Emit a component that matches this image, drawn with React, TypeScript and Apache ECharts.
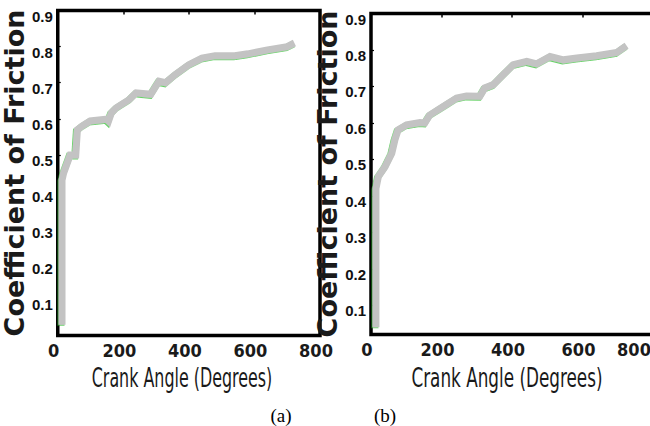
import React, { useEffect, useRef } from "react";
import * as echarts from "echarts";

// Panel (a)
const angleA = [13, 13, 18, 38, 55, 60, 74, 99, 149, 155, 164, 179, 219, 239, 259, 284, 299, 309, 329, 359, 400, 440, 480, 540, 580, 640, 700, 722];
const cofA = [0.03, 0.43, 0.45, 0.5, 0.5, 0.57, 0.58, 0.594, 0.599, 0.594, 0.617, 0.631, 0.654, 0.672, 0.67, 0.668, 0.69, 0.704, 0.7, 0.723, 0.75, 0.768, 0.775, 0.775, 0.78, 0.791, 0.8, 0.81];

// Panel (b)
const angleB = [14, 14, 21, 40, 59, 68, 77, 101, 139, 153, 167, 205, 243, 271, 309, 323, 347, 375, 404, 442, 470, 508, 546, 584, 640, 697, 725];
const cofB = [0.04, 0.42, 0.453, 0.48, 0.517, 0.554, 0.581, 0.595, 0.601, 0.6, 0.622, 0.645, 0.668, 0.674, 0.673, 0.696, 0.705, 0.732, 0.76, 0.769, 0.762, 0.782, 0.773, 0.778, 0.784, 0.793, 0.812];

const xTitle = "Crank Angle (Degrees)";
const yTitle = "Coefficient of Friction";
const panelLabels = ["(a)", "(b)"];

export default function App() {
  const ref = useRef<HTMLDivElement>(null);

  useEffect(() => {
    const chart = echarts.init(ref.current!, null, { renderer: "svg" });
    const pair = (xs: number[], ys: number[]) => xs.map((x, i) => [x, ys[i]]);

    const cond = "'DejaVu Sans Condensed', 'DejaVu Sans', sans-serif";
    const grids = [
      { left: 55, top: 10.5, width: 265, height: 325 },
      { left: 371, top: 13.5, width: 282, height: 321 },
    ];
    const yMins = [0, 0.02];
    const yGaps = [19, 14];

    const xLabelFont = { fontFamily: cond, fontWeight: "bold", fontSize: 18, color: "#1a1a1a" };

    const xAxes: any[] = [];
    const yAxes: any[] = [];
    grids.forEach((_, i) => {
      xAxes.push({
        type: "value",
        gridIndex: i,
        min: 0,
        max: 800,
        interval: 200,
        axisLine: { show: false },
        axisTick: { show: false },
        splitLine: { show: false },
        axisLabel: {
          ...xLabelFont,
          margin: 6,
          padding: [0, 8, 0, 0],
          formatter: (v: number) => (i === 1 && v === 800 ? "{e|" + v + "}" : String(v)),
          rich: { e: { ...xLabelFont, padding: [0, 30, 0, 0] } },
        },
      });
      xAxes.push({
        type: "value",
        gridIndex: i,
        position: "top",
        min: 0,
        max: 800,
        interval: 200,
        axisLine: { show: false },
        axisTick: { show: true, inside: true, length: 4, lineStyle: { color: "#000", width: 1.5 } },
        splitLine: { show: false },
        axisLabel: { show: false },
      });
      yAxes.push({
        type: "value",
        gridIndex: i,
        min: yMins[i],
        max: 0.9,
        splitNumber: 9,
        minInterval: 0.1,
        maxInterval: 0.1,
        axisLine: { show: false },
        axisTick: { show: true, inside: true, length: 3, lineStyle: { color: "#000", width: 1.2 } },
        splitLine: { show: false },
        axisLabel: {
          showMinLabel: false,
          fontFamily: "'Liberation Sans', Arial, sans-serif",
          fontWeight: "bold",
          fontSize: 15,
          color: "#111",
          margin: 5,
          verticalAlign: "top",
          lineHeight: 11,
        },
        name: yTitle,
        nameLocation: "middle",
        nameGap: yGaps[i],
        nameTextStyle: {
          fontFamily: "'DejaVu Sans', sans-serif",
          fontWeight: "bold",
          fontSize: 27,
          color: "#1a1a1a",
        },
      });
    });

    const mkSeries = (data: number[][], xi: number, yi: number) => ({
      type: "line",
      xAxisIndex: xi,
      yAxisIndex: yi,
      data,
      showSymbol: false,
      symbol: "none",
      silent: true,
      lineStyle: {
        color: "#c3c3c3",
        width: 7,
        cap: "butt",
        join: "miter",
        shadowColor: "rgba(40,190,40,0.7)",
        shadowBlur: 0,
        shadowOffsetX: -1,
        shadowOffsetY: 1,
      },
    });

    const xTitleText = (cx: number, sx: number) => ({
      type: "text",
      x: cx,
      y: 378,
      scaleX: sx,
      scaleY: 1,
      style: {
        text: xTitle,
        font: "26px 'DejaVu Sans Condensed', 'DejaVu Sans', sans-serif",
        fill: "#1a1a1a",
        textAlign: "center",
        textVerticalAlign: "middle",
      },
    });
    const caption = (cx: number, t: string) => ({
      type: "text",
      x: cx,
      y: 415,
      style: {
        text: t,
        font: "19px 'Liberation Serif', 'Times New Roman', serif",
        fill: "#000",
        textAlign: "center",
        textVerticalAlign: "middle",
      },
    });

    chart.setOption({
      animation: false,
      backgroundColor: "#ffffff",
      grid: grids.map((g) => ({
        ...g,
        show: true,
        borderColor: "#000",
        borderWidth: 3.5,
        backgroundColor: "transparent",
        containLabel: false,
      })),
      xAxis: xAxes,
      yAxis: yAxes,
      series: [mkSeries(pair(angleA, cofA), 0, 0), mkSeries(pair(angleB, cofB), 2, 1)],
      graphic: [
        xTitleText(182, 0.68),
        xTitleText(507, 0.72),
        caption(281, panelLabels[0]),
        caption(385, panelLabels[1]),
      ],
    });

    return () => chart.dispose();
  }, []);

  return (
    <div
      ref={ref}
      style={{ position: "fixed", left: 0, top: 0, width: 660, height: 426, background: "#fff" }}
    />
  );
}
